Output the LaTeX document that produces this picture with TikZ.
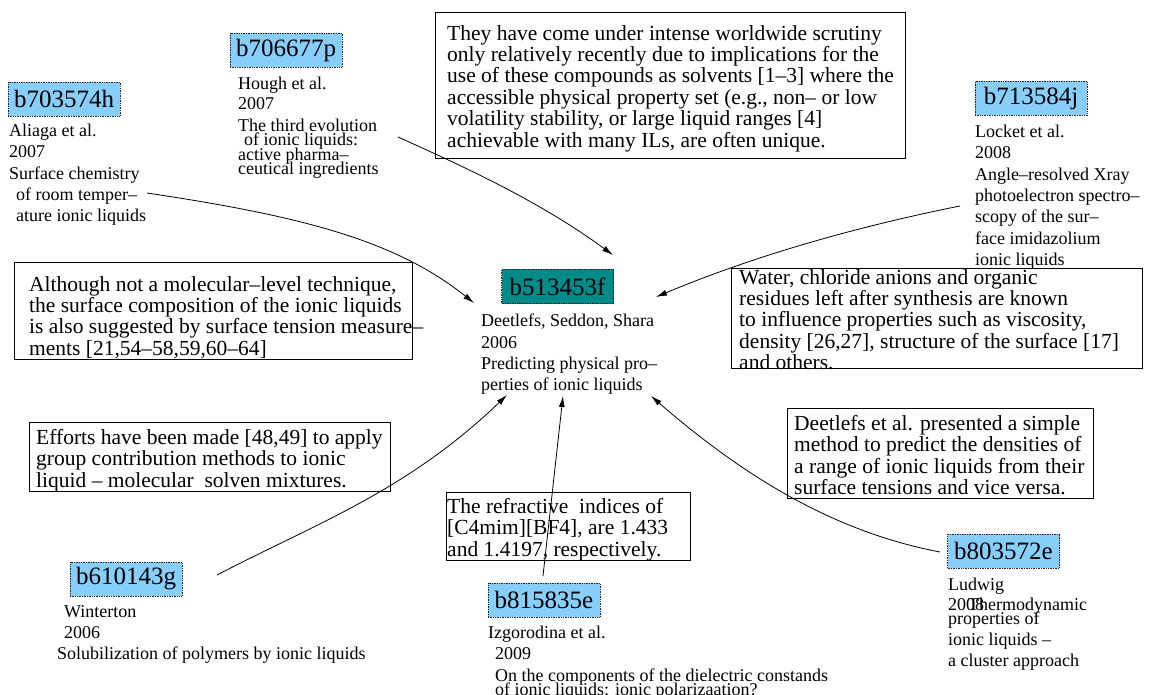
\documentclass[tikz,border=0pt]{standalone}
\usepackage{fontspec}
\setmainfont{Liberation Serif}
\usetikzlibrary{arrows.meta}
\definecolor{refblue}{RGB}{135,206,250}
\definecolor{hubteal}{RGB}{0,139,139}
\tikzset{
  idbox/.style={draw=black!85, densely dotted, line width=0.7pt, fill=refblue,
    minimum width=112pt, minimum height=34pt, inner sep=0pt,
    font=\fontsize{25}{30}\selectfont},
  hub/.style={idbox, fill=hubteal},
  meta/.style={anchor=north west, inner sep=0pt, align=left,
    font=\fontsize{18}{21.3}\selectfont},
  frame/.style={draw, line width=0.9pt, anchor=north west, inner sep=0pt},
  note/.style={anchor=north west, inner sep=0pt, align=left,
    font=\fontsize{21.5}{21.4}\selectfont},
  cite/.style={-{Latex[length=11pt,width=6pt]}, line width=0.8pt},
}
\begin{document}
\begin{tikzpicture}[x=1pt,y=-1pt]
\useasboundingbox[fill=white] (0,0) rectangle (1149,695);

% ---- central paper ----
\node[hub] (b513453f) at (557.5,286.5) {b513453f};
\node[meta] (m513453f) at (481,314) {Deetlefs, Seddon, Shara\\2006\\Predicting physical pro--\\perties of ionic liquids};

% ---- citing papers ----
\node[idbox] (b703574h) at (64,99) {b703574h};
\node[meta] (m703574h) at (9,124) {Aliaga et al.\\2007\\Surface chemistry\\\hspace*{7pt}of room temper--\\\hspace*{7pt}ature ionic liquids};

\node[idbox] (b706677p) at (286,50) {b706677p};
\node[meta] (m706677p) at (238,77) {Hough et al.\\[-1pt]2007\\The third evolution\\[-7pt]\hspace*{6pt}of ionic liquids:\\[-6.5pt]active pharma--\\[-7pt]ceutical ingredients};

\node[idbox] (b713584j) at (1031,98.5) {b713584j};
\node[meta] (m713584j) at (975,125) {Locket et al.\\2008\\Angle--resolved Xray\\photoelectron spectro--\\scopy of the sur--\\face imidazolium\\ionic liquids};

\node[idbox] (b610143g) at (126,579) {b610143g};
\node[meta] (m610143g) at (57,605) {\hspace*{7pt}Winterton\\\hspace*{7pt}2006\\Solubilization of polymers by ionic liquids};

\node[idbox] (b815835e) at (544,600) {b815835e};
\node[meta] (m815835e) at (488,626) {Izgorodina et al.\\\hspace*{7pt}2009\\\hspace*{7pt}On the components of the dielectric constands\\[-7pt]\hspace*{7pt}of ionic liquids: ionic polarizaation?};

\node[idbox] (b803572e) at (1003.5,551) {b803572e};
\node[meta] (m803572e) at (948,578) {Ludwig\\[-1pt]2008\hspace*{-16pt}Thermodynamic\\[-8pt]properties of\\ionic liquids --\\a cluster approach};

% ---- quoted passages ----
\node[frame, minimum width=470pt, minimum height=146pt] (fq1) at (435,12) {};
\node[note] (q1) at (447,25) {They have come under intense worldwide scrutiny\\only relatively recently due to implications for the\\use of these compounds as solvents [1--3] where the\\accessible physical property set (e.g., non-- or low\\volatility stability, or large liquid ranges [4]\\achievable with many ILs, are often unique.};

\node[frame, minimum width=398pt, minimum height=97pt] (fq2) at (14,262) {};
\node[note] (q2) at (29,276) {Although not a molecular--level technique,\\the surface composition of the ionic liquids\\is also suggested by surface tension measure--\\ments [21,54--58,59,60--64]};

\node[frame, minimum width=411pt, minimum height=100pt] (fq3) at (731,268) {};
\node[note] (q3) at (739,269) {Water, chloride anions and organic\\residues left after synthesis are known\\to influence properties such as viscosity,\\density [26,27], structure of the surface [17]\\and others.};

\node[frame, minimum width=361pt, minimum height=69pt] (fq4) at (29,422) {};
\node[note] (q4) at (36,429) {Efforts have been made [48,49] to apply\\group contribution methods to ionic\\liquid -- molecular\ \ solven mixtures.};

\node[frame, minimum width=306pt, minimum height=90pt] (fq5) at (787,408) {};
\node[note] (q5) at (794,415) {Deetlefs et al. presented a simple\\method to predict the densities of\\a range of ionic liquids from their\\surface tensions and vice versa.};

\node[frame, minimum width=244pt, minimum height=68pt] (fq6) at (446,492) {};
\node[note] (q6) at (447,498) {The refractive\ \ indices of\\{}[C4mim][BF4], are 1.433\\and 1.4197, respectively.};

% ---- citation links ----
\coordinate (s1) at (147,193);
\coordinate (s2) at (398,137);
\coordinate (s3) at (960,206);
\coordinate (s4) at (217,575);
\coordinate (s5) at (543,576);
\coordinate (s6) at (940,552);
\coordinate (e1) at (474,303);
\coordinate (e2) at (613,255);
\coordinate (e3) at (656,297);
\coordinate (e4) at (507,395);
\coordinate (e5) at (563,396);
\coordinate (e6) at (651,396);

\draw[cite] (s1) .. controls (297,215.5) and (394,239) .. (e1);
\draw[cite] (s2) .. controls (470,169.4) and (541,202.4) .. (e2);
\draw[cite] (s3) .. controls (860,226) and (756,255) .. (e3);
\draw[cite] (s4) .. controls (317,523) and (407,491) .. (e4);
\draw[cite] (s5) -- (e5);
\draw[cite] (s6) .. controls (840,533) and (750,482) .. (e6);
\end{tikzpicture}
\end{document}
